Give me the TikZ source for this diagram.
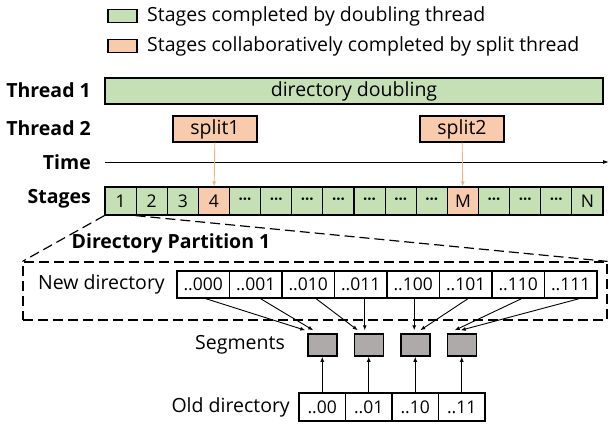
\documentclass[tikz,border=0pt]{standalone}
\usepackage{fontspec}
\setmainfont{Open Sans}
\usetikzlibrary{arrows.meta}
\definecolor{dblgreen}{HTML}{C5E0B4}
\definecolor{splitorange}{HTML}{F8CBAD}
\definecolor{splitline}{HTML}{F4B183}
\definecolor{seggray}{HTML}{AEAAAA}
\newcommand\stdots{{\bfseries\fontsize{15}{15}\selectfont ···}}
\begin{document}
\begin{tikzpicture}[x=1pt,y=-1pt,
  every node/.style={font=\fontsize{19.5}{22}\selectfont},
  txt/.style={inner sep=0pt},
  rlbl/.style={anchor=east, inner sep=0pt},
  blbl/.style={anchor=east, inner sep=0pt, font=\fontsize{19.5}{22}\selectfont\bfseries},
  legbox/.style={draw, line width=1.3pt, minimum width=29pt, minimum height=13pt, inner sep=0pt},
  stagebox/.style={draw, line width=1.2pt, minimum width=31.125pt, minimum height=28pt, inner sep=0pt},
  cell/.style={draw, line width=1.6pt, minimum height=27pt, inner sep=0pt, font=\fontsize{17.5}{20}\selectfont},
  segbox/.style={draw, line width=1.5pt, fill=seggray, minimum width=29pt, minimum height=22pt, inner sep=0pt},
  arr/.style={-{Latex[length=5pt,width=4pt]}, line width=0.9pt},
  splitarr/.style={-{Latex[length=5pt,width=4pt]}, line width=0.9pt, splitline},
  zoomline/.style={line width=1.2pt, dash pattern=on 10pt off 5pt}]
\useasboundingbox (0,0) rectangle (610,426);
\node[legbox, fill=dblgreen] (lg1) at (122.5,16) {};
\node[txt, anchor=west] (lt1) at (147,16) {Stages completed by doubling thread};
\node[legbox, fill=splitorange] (lg2) at (122.5,46) {};
\node[txt, anchor=west] (lt2) at (147,46) {Stages collaboratively completed by split thread};
\node[blbl] (th1) at (91,90) {Thread 1};
\node[blbl] (th2) at (91,128) {Thread 2};
\node[blbl] (tm) at (91,162) {Time};
\node[blbl] (stg) at (91,199) {Stages};
\node[stagebox, fill=dblgreen, minimum width=498pt, minimum height=26pt] (dd) at (354,91) {directory doubling};
\node[stagebox, fill=splitorange, minimum width=84pt, minimum height=26pt] (sp1) at (215,129) {split1};
\node[stagebox, fill=splitorange, minimum width=84pt, minimum height=26pt] (sp2) at (462,129) {split2};
\coordinate (tstart) at (105,162);
\coordinate (tend) at (609,162);
\draw[-{Latex[length=6pt,width=4pt]}, line width=0.9pt] (tstart) -- (tend);
\foreach \lab/\col [count=\i] in {1/dblgreen,2/dblgreen,3/dblgreen,4/splitorange,
  \stdots/dblgreen,\stdots/dblgreen,\stdots/dblgreen,\stdots/dblgreen,\stdots/dblgreen,
  \stdots/dblgreen,\stdots/dblgreen,M/splitorange,\stdots/dblgreen,\stdots/dblgreen,
  \stdots/dblgreen,N/dblgreen}
  \node[stagebox, fill=\col, font=\fontsize{17.5}{20}\selectfont] (st\i) at ({105+31.125*(\i-0.5)},201) {\lab};
\draw[splitarr] (sp1) -- (st4);
\draw[splitarr] (sp2) -- (st12);
\node[draw, zoomline, minimum width=584pt, minimum height=58pt, inner sep=0pt] (dp) at (315,291) {};
\draw[zoomline] (st1.south west) -- (dp.north west);
\draw[zoomline] (st2.south west) -- (dp.north east);
\node[txt, font=\fontsize{19.5}{22}\selectfont\bfseries] (dplbl) at (171,243) {Directory Partition 1};
\node[rlbl] (ndlbl) at (165,284) {New directory};
\foreach \lab [count=\i] in {..000,..001,..010,..011,..100,..101,..110,..111}
  \node[cell, minimum width=52.5pt] (nd\i) at ({177+52.5*(\i-0.5)},284.5) {\lab};
\node[rlbl] (sglbl) at (285,345) {Segments};
\foreach \i in {1,...,4}
  \node[segbox] (sg\i) at ({299+46.5*(\i-0.5)},345) {};
\node[rlbl] (odlbl) at (290,407) {Old directory};
\foreach \lab [count=\i] in {..00,..01,..10,..11}
  \node[cell, minimum width=46.5pt, minimum height=28pt] (od\i) at ({299+46.5*(\i-0.5)},407) {\lab};
\foreach \i in {1,...,4}
  \draw[arr] (od\i) -- (sg\i);
\foreach \n/\s/\a/\b in {1/1/3/-17,2/1/5/-9,3/2/8/-11,4/2/4/-4,5/3/1/-1,6/3/2/5,7/4/3/-7,8/4/8/-1}
  \draw[arr] ([xshift=\a pt]nd\n.south) -- ([xshift=\b pt,yshift=3pt]sg\s.north);
\end{tikzpicture}
\end{document}
